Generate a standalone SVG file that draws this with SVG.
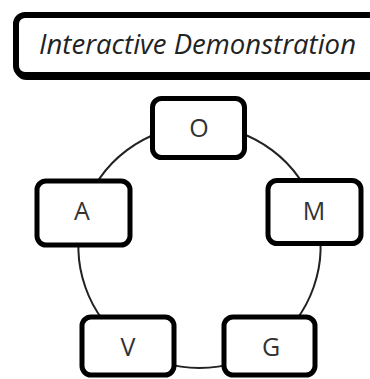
<svg xmlns="http://www.w3.org/2000/svg" width="370" height="379" viewBox="0 0 370 379">
  <style>
    .box { fill: #fff; stroke: #000; stroke-width: 5; }
    .lbl { font-family: "Open Sans", "Liberation Sans", sans-serif; font-size: 25px; fill: #333; text-anchor: middle; }
    .title { font-family: "Open Sans", "Liberation Sans", sans-serif; font-style: italic; font-size: 28px; fill: #222; }
    .ring { fill: none; stroke: #222; stroke-width: 2; }
  </style>
  <rect width="370" height="379" fill="#fff"/>

  <!-- header banner -->
  <g id="title">
    <rect x="17.5" y="17" width="370" height="60" rx="9" fill="none" stroke="#000" stroke-width="6"/>
    <rect x="16" y="15" width="370" height="60" rx="9" fill="#fff" stroke="#000" stroke-width="6"/>
    <text class="title" x="39" y="54" textLength="317" lengthAdjust="spacingAndGlyphs">Interactive Demonstration</text>
  </g>

  <!-- cycle connecting the five stages -->
  <g id="connectors">
    <path class="ring" d="M199.5 126 A121 121 0 0 1 315.6 213"/>
    <path class="ring" d="M315.6 213 A121 121 0 0 1 269.1 346"/>
    <path class="ring" d="M269.1 346 A121 121 0 0 1 129.9 346"/>
    <path class="ring" d="M129.9 346 A121 121 0 0 1 83.4 213"/>
    <path class="ring" d="M83.4 213 A121 121 0 0 1 199.5 126"/>
  </g>

  <g id="node-O">
    <rect class="box" x="152.5" y="98.5" width="92" height="59" rx="9"/>
    <text class="lbl" x="199" y="137">O</text>
  </g>
  <g id="node-M">
    <rect class="box" x="268" y="180.5" width="93" height="63" rx="9"/>
    <text class="lbl" x="314" y="220">M</text>
  </g>
  <g id="node-G">
    <rect class="box" x="224" y="317" width="91" height="58" rx="9"/>
    <text class="lbl" x="271" y="356">G</text>
  </g>
  <g id="node-V">
    <rect class="box" x="82" y="317" width="92" height="58" rx="9"/>
    <text class="lbl" x="128" y="356">V</text>
  </g>
  <g id="node-A">
    <rect class="box" x="37" y="181" width="93" height="64" rx="9"/>
    <text class="lbl" x="82" y="220">A</text>
  </g>
</svg>
